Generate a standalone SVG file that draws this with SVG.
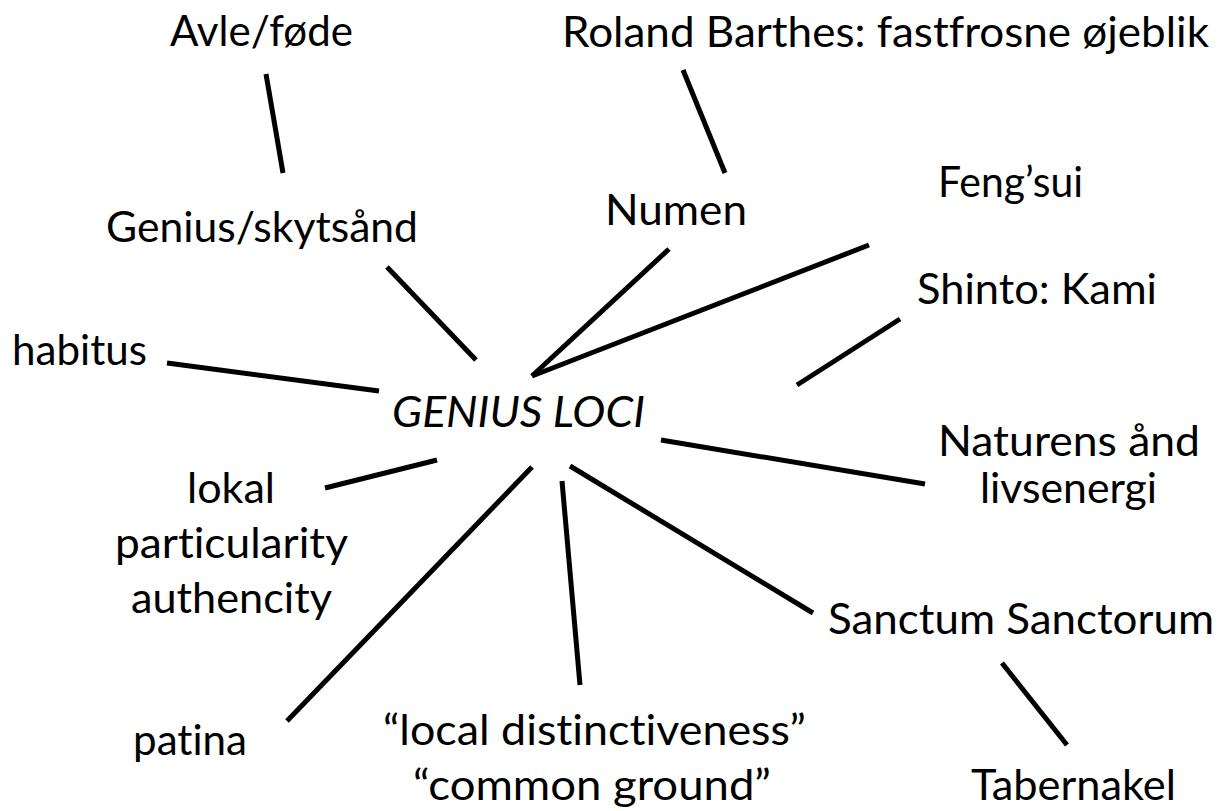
<svg xmlns="http://www.w3.org/2000/svg" width="1224" height="811" viewBox="0 0 1224 811">
<style>
text{font-family:Lato,"Open Sans","Liberation Sans",sans-serif;font-size:43px;fill:#000;font-variant-ligatures:none}
.it{font-style:italic}
.c line{stroke:#000;stroke-width:5;stroke-linecap:butt}
</style>
<rect width="1224" height="811" fill="#fff"/>
<g class="c" id="connectors">
<line x1="266" y1="74" x2="283" y2="173"/>
<line x1="683" y1="70" x2="725" y2="173"/>
<line x1="387" y1="267" x2="476" y2="360"/>
<line x1="167" y1="363" x2="379" y2="391"/>
<line x1="669" y1="249" x2="532" y2="376"/>
<line x1="869" y1="245" x2="532" y2="376"/>
<line x1="900" y1="319" x2="797" y2="385"/>
<line x1="661" y1="440" x2="925" y2="484"/>
<line x1="325" y1="488" x2="437" y2="460"/>
<line x1="287" y1="721" x2="532" y2="467"/>
<line x1="562" y1="481" x2="580" y2="685"/>
<line x1="570" y1="466" x2="813" y2="613"/>
<line x1="1002" y1="663" x2="1067" y2="745"/>
</g>
<g id="avle"><text x="170" y="46" textLength="183" lengthAdjust="spacingAndGlyphs">Avle/føde</text></g>
<g id="barthes"><text x="562" y="47" textLength="647" lengthAdjust="spacingAndGlyphs">Roland Barthes: fastfrosne øjeblik</text></g>
<g id="genius"><text x="106" y="242" textLength="312" lengthAdjust="spacingAndGlyphs">Genius/skytsånd</text></g>
<g id="numen"><text x="605" y="225" textLength="142" lengthAdjust="spacingAndGlyphs">Numen</text></g>
<g id="fengsui"><text x="938" y="197" textLength="145" lengthAdjust="spacingAndGlyphs">Feng’sui</text></g>
<g id="shinto"><text x="917" y="304" textLength="240" lengthAdjust="spacingAndGlyphs">Shinto: Kami</text></g>
<g id="habitus"><text x="12" y="365" textLength="135" lengthAdjust="spacingAndGlyphs">habitus</text></g>
<g id="center"><text class="it" x="392" y="427" textLength="253" lengthAdjust="spacingAndGlyphs">GENIUS LOCI</text></g>
<g id="naturens">
<text x="938" y="456" textLength="262" lengthAdjust="spacingAndGlyphs">Naturens ånd</text>
<text x="980" y="503" textLength="177" lengthAdjust="spacingAndGlyphs">livsenergi</text>
</g>
<g id="lokal">
<text x="187" y="503" textLength="88" lengthAdjust="spacingAndGlyphs">lokal</text>
<text x="115" y="558" textLength="233" lengthAdjust="spacingAndGlyphs">particularity</text>
<text x="131" y="613" textLength="201" lengthAdjust="spacingAndGlyphs">authencity</text>
</g>
<g id="sanctum"><text x="828" y="634" textLength="386" lengthAdjust="spacingAndGlyphs">Sanctum Sanctorum</text></g>
<g id="patina"><text x="133" y="755" textLength="114" lengthAdjust="spacingAndGlyphs">patina</text></g>
<g id="local">
<text x="383" y="745" textLength="423" lengthAdjust="spacingAndGlyphs">“local distinctiveness”</text>
<text x="413" y="800" textLength="358" lengthAdjust="spacingAndGlyphs">“common ground”</text>
</g>
<g id="tabernakel"><text x="971" y="800" textLength="205" lengthAdjust="spacingAndGlyphs">Tabernakel</text></g>
</svg>
